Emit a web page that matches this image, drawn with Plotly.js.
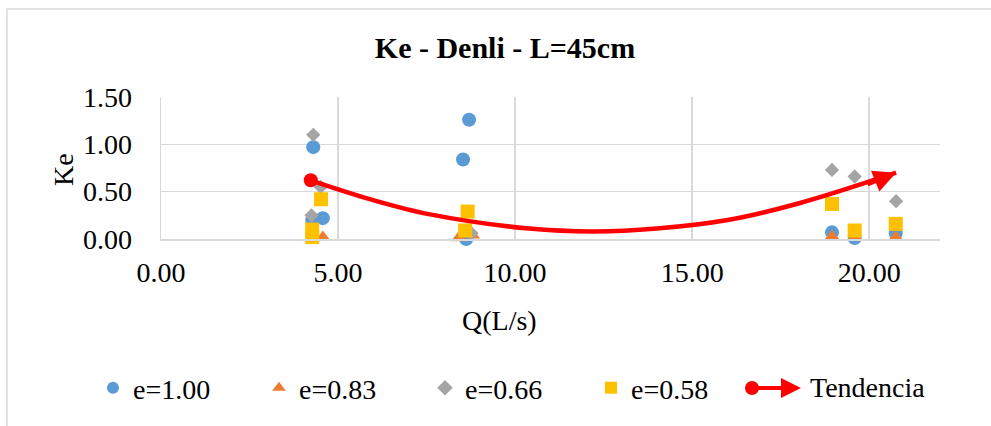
<!DOCTYPE html>
<html>
<head>
<meta charset="utf-8">
<script src="https://cdn.plot.ly/plotly-3.0.1.min.js"></script>
<style>
  html, body { margin: 0; padding: 0; background: #fff; }
  #chart { width: 991px; height: 426px; }
</style>
</head>
<body>
<div id="chart"></div>
<script>
// Ke versus Q for each opening ratio e
const q_e100 = [4.30, 4.57, 4.27, 8.70, 8.53, 8.62, 18.95, 19.59, 20.75];
const ke_e100 = [0.97, 0.22, 0.20, 1.26, 0.84, 0.00, 0.07, 0.01, 0.06];

const q_e083 = [4.57, 4.27, 8.40, 8.80, 18.95, 19.59, 20.75];
const ke_e083 = [0.02, 0.01, 0.01, 0.04, 0.03, 0.02, 0.02];

const q_e066 = [4.30, 4.51, 4.25, 8.77, 18.95, 19.59, 20.76];
const ke_e066 = [1.10, 0.55, 0.25, 0.06, 0.73, 0.66, 0.40];

const q_e058 = [4.52, 4.27, 4.27, 8.66, 8.59, 18.95, 19.59, 20.75];
const ke_e058 = [0.42, 0.10, 0.02, 0.29, 0.09, 0.37, 0.09, 0.16];

// Trend curve
const q_trend = [4.23, 6.0, 7.6, 10.4, 12.2, 14.0, 16.0, 18.05, 20.76];
const ke_trend = [0.62, 0.41, 0.26, 0.11, 0.08, 0.11, 0.20, 0.38, 0.70];

const seriesNames = ['e=1.00', 'e=0.83', 'e=0.66', 'e=0.58', 'Tendencia'];
const xTicks = [0, 5, 10, 15, 20];
const yTicks = [0, 0.5, 1.0, 1.5];

const serif = 'Liberation Serif, Times New Roman, serif';
const RED = '#FF0000';

// plot area in pixels, used to place the hand-drawn legend entry and titles
const PL = 161, PR = 940, PT = 97, PB = 239;
const px2x = p => (p - PL) / (PR - PL);
const px2y = p => (PB - p) / (PB - PT);

function pointTrace(x, y, name, symbol, color, size) {
  return {
    type: 'scatter', mode: 'markers', x: x, y: y, name: name,
    marker: { symbol: symbol, color: color, size: size, line: { width: 0 } },
    cliponaxis: false
  };
}

const last = q_trend.length - 1;

const data = [
  pointTrace(q_e100, ke_e100, seriesNames[0], 'circle', '#5B9BD5', 14),
  pointTrace(q_e083, ke_e083, seriesNames[1], 'triangle-up', '#ED7D31', 13),
  pointTrace(q_e066, ke_e066, seriesNames[2], 'diamond', '#A5A5A5', 11),
  pointTrace(q_e058, ke_e058, seriesNames[3], 'square', '#FFC000', 14),
  {
    type: 'scatter', mode: 'lines', x: q_trend, y: ke_trend, name: seriesNames[4],
    line: { color: RED, width: 4.5, shape: 'spline', smoothing: 1 },
    showlegend: false, cliponaxis: false
  },
  {
    type: 'scatter', mode: 'markers', x: [q_trend[0]], y: [ke_trend[0]], name: seriesNames[4],
    marker: { color: RED, size: 14, symbol: 'circle', line: { width: 0 } },
    showlegend: false, cliponaxis: false
  }
];

// Legend entry for the trend: dot, line and arrowhead
const legY = 388;
const legDotX = 752, legTipX = 801;

const layout = {
  width: 991, height: 426,
  paper_bgcolor: '#ffffff', plot_bgcolor: '#ffffff',
  margin: { l: PL, r: 991 - PR, t: PT, b: 426 - PB },
  font: { family: serif, color: '#000000', size: 28 },
  title: {
    text: 'Ke - Denli - L=45cm',
    font: { family: serif, size: 30, weight: 'bold', color: '#000000' },
    x: 505 / 991, xref: 'container', xanchor: 'center',
    y: 1 - 47 / 426, yref: 'container', yanchor: 'middle'
  },
  xaxis: {
    range: [0, 22], tickvals: xTicks, tickformat: '.2f',
    showgrid: true, gridcolor: '#d9d9d9', gridwidth: 1.5,
    zeroline: false, showline: true, linecolor: '#d9d9d9', linewidth: 1.5,
    ticks: '', ticklabelstandoff: 8,
    tickfont: { family: serif, size: 28 }
  },
  yaxis: {
    range: [0, 1.5], tickvals: yTicks, tickformat: '.2f',
    showgrid: true, gridcolor: '#d9d9d9', gridwidth: 1.5,
    zeroline: false, showline: true, linecolor: '#d9d9d9', linewidth: 1.5,
    ticks: '', ticklabelstandoff: 22,
    tickfont: { family: serif, size: 28 }
  },
  showlegend: true,
  legend: {
    orientation: 'h', x: px2x(93), xanchor: 'left', y: px2y(legY), yanchor: 'middle',
    font: { family: serif, size: 28 }, bgcolor: 'rgba(0,0,0,0)',
    itemsizing: 'constant', traceorder: 'normal', entrywidth: 121, entrywidthmode: 'pixels'
  },
  annotations: [
    { // axis titles
      text: 'Ke', xref: 'paper', yref: 'paper', x: px2x(63), y: px2y(170),
      textangle: -90, showarrow: false, font: { family: serif, size: 28 },
      xanchor: 'center', yanchor: 'middle'
    },
    {
      text: 'Q(L/s)', xref: 'paper', yref: 'paper', x: px2x(499), y: px2y(320),
      showarrow: false, font: { family: serif, size: 28 },
      xanchor: 'center', yanchor: 'middle'
    },
    { // arrowhead at the end of the trend curve
      x: q_trend[last], y: ke_trend[last], xref: 'x', yref: 'y',
      ax: -30, ay: 12, axref: 'pixel', ayref: 'pixel',
      text: '', showarrow: true, arrowhead: 2, arrowsize: 1, arrowwidth: 4.5,
      arrowcolor: RED, standoff: 0
    },
    { // legend entry for the trend
      x: px2x(legTipX), y: px2y(legY), xref: 'paper', yref: 'paper',
      ax: -(legTipX - legDotX), ay: 0, axref: 'pixel', ayref: 'pixel',
      text: '', showarrow: true, arrowhead: 2, arrowsize: 1, arrowwidth: 4,
      arrowcolor: RED, standoff: 0
    },
    {
      text: seriesNames[4], xref: 'paper', yref: 'paper', x: px2x(808), y: px2y(legY),
      showarrow: false, font: { family: serif, size: 28 },
      xanchor: 'left', yanchor: 'middle'
    }
  ],
  shapes: [
    {
      type: 'rect', xref: 'paper', yref: 'paper',
      x0: px2x(7), x1: px2x(1000), y0: px2y(440), y1: px2y(9),
      line: { color: '#d9d9d9', width: 1.5 }, fillcolor: 'rgba(0,0,0,0)', layer: 'below'
    },
    {
      type: 'circle', xref: 'paper', yref: 'paper',
      x0: px2x(legDotX - 7), x1: px2x(legDotX + 7), y0: px2y(legY + 7), y1: px2y(legY - 7),
      line: { width: 0 }, fillcolor: RED, layer: 'above'
    }
  ]
};

Plotly.newPlot('chart', data, layout, { staticPlot: true, displayModeBar: false });
</script>
</body>
</html>
